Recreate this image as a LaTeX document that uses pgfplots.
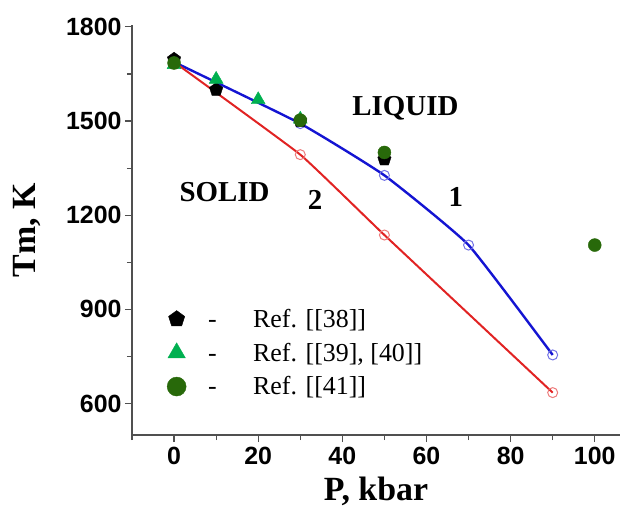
\documentclass[border=0pt]{standalone}
\usepackage{fontspec}
\setmainfont{Liberation Serif}
\newfontfamily\arialf{Liberation Sans}
\usepackage{pgfplots}
\pgfplotsset{compat=1.18}
\definecolor{cblue}{RGB}{20,20,210}
\definecolor{cred}{RGB}{225,35,35}
\definecolor{cgreen}{RGB}{0,176,80}
\definecolor{cdgreen}{RGB}{40,105,10}
\definecolor{caxis}{RGB}{80,80,80}
\begin{document}
\begin{tikzpicture}
\begin{axis}[name=ax,
  scale only axis, width=488bp, height=410bp,
  xmin=-10, xmax=106, ymin=500, ymax=1806,
  axis x line*=bottom, axis y line*=left,
  axis line style={caxis, line width=1.3bp},
  tick style={caxis, line width=1.2bp},
  tick align=outside,
  major tick length=7bp, minor tick length=5bp,
  xtick={0,20,40,60,80,100}, minor xtick={-10,10,30,50,70,90},
  ytick={600,900,1200,1500,1800}, minor ytick={750,1050,1350,1650},
  /pgf/number format/assume math mode=true,
  /pgf/number format/1000 sep={},
  tick label style={font=\arialf\bfseries\fontsize{25}{27}\selectfont},
  xticklabel style={yshift=-2bp},
  xlabel={\bfseries P, kbar}, ylabel={\bfseries Tm, K},
  label style={font=\fontsize{34}{36}\selectfont},
  xlabel style={yshift=-5bp},
  ylabel style={yshift=18bp},
  clip=false,
  legend style={draw=none, fill=none, at={(axis cs:-2.4,914)}, anchor=north west,
    font=\fontsize{26}{28}\selectfont, row sep=10bp,
    nodes={inner sep=2bp}},
  legend cell align=left,
]
\addplot[cblue, line width=2.4bp, smooth, tension=0.25, forget plot] coordinates {(0,1688) (30,1492) (50,1327) (70,1105) (90,755)};
\addplot[cred, line width=2bp, smooth, tension=0.2, forget plot] coordinates {(0,1688) (30,1393) (50,1137) (90,635)};
\addplot[only marks, mark=o, mark size=5bp, draw=cblue!60, mark options={line width=1bp}, forget plot] coordinates {(30,1492) (50,1327) (70,1105) (90,755)};
\addplot[only marks, mark=o, mark size=5bp, draw=cred!60, mark options={line width=1bp}, forget plot] coordinates {(30,1393) (50,1137) (90,635)};
\addplot[only marks, mark=pentagon*, mark size=7bp, black, legend image post style={mark size=8.5bp}] coordinates {(0,1697) (10,1600) (30,1500) (50,1378)};
\addlegendentry{\makebox[65bp][l]{\hspace{20bp}-}Ref. [[38]]}
\addplot[only marks, mark=triangle*, mark size=8bp, cgreen, legend image post style={mark size=10bp}] coordinates {(0,1680) (10,1633) (20,1568) (30,1506)};
\addlegendentry{\makebox[65bp][l]{\hspace{20bp}-}Ref. [[39], [40]]}
\addplot[only marks, mark=*, mark size=6.5bp, cdgreen, legend image post style={mark size=9.5bp}] coordinates {(0,1685) (30,1503) (50,1400) (100,1105)};
\addlegendentry{\makebox[65bp][l]{\hspace{20bp}-}Ref. [[41]]}
\node[font=\bfseries\fontsize{29}{31}\selectfont] at (axis cs:55,1540) {LIQUID};
\node[font=\bfseries\fontsize{29}{31}\selectfont] at (axis cs:12,1275) {SOLID};
\node[font=\bfseries\fontsize{29}{31}\selectfont] at (axis cs:33.5,1250) {2};
\node[font=\bfseries\fontsize{29}{31}\selectfont] at (axis cs:67,1258) {1};
\end{axis}
\pgfresetboundingbox
\path (ax.south west) ++(-132bp,-74bp) rectangle ++(625bp,509bp);
\end{tikzpicture}
\end{document}
